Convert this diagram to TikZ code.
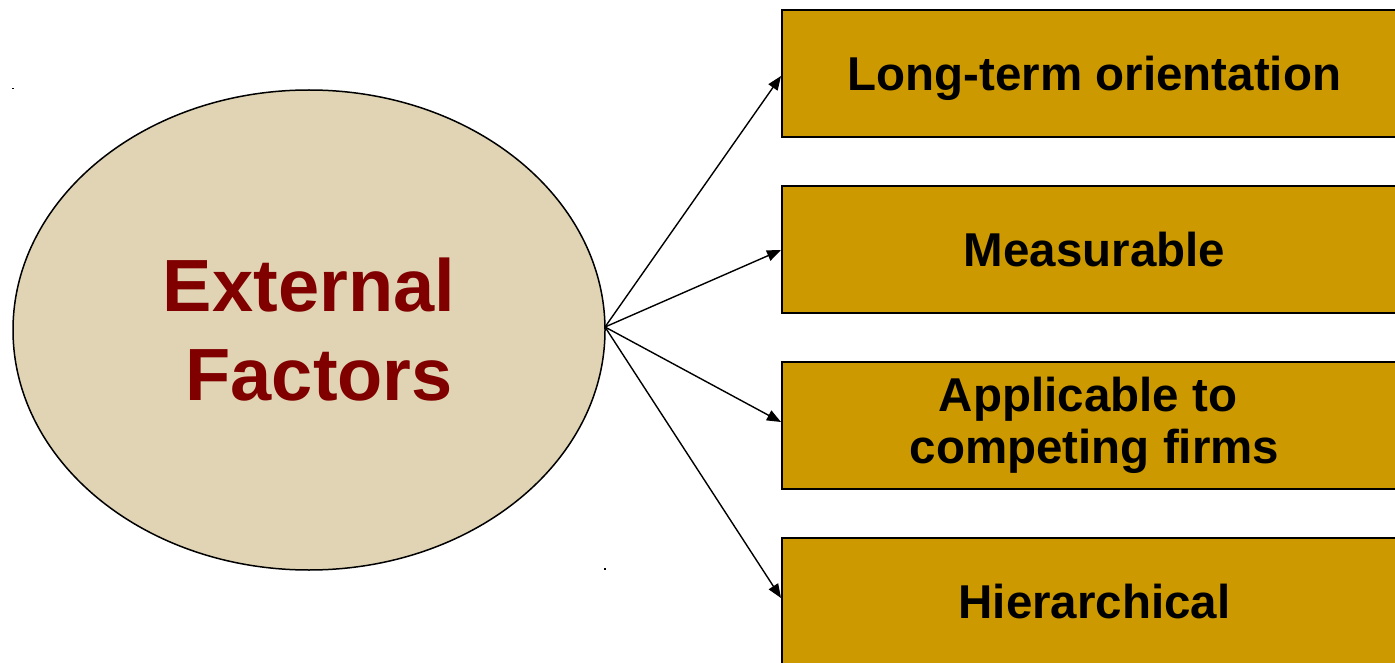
\documentclass[tikz,border=0pt]{standalone}
\usepackage{fontspec}
\setmainfont{Liberation Sans}
\usetikzlibrary{arrows.meta,shapes.geometric}
\definecolor{ellfill}{HTML}{E0D4B4}
\definecolor{boxfill}{HTML}{CC9900}
\definecolor{darkred}{HTML}{800000}
\begin{document}
\begin{tikzpicture}[x=1pt,y=-1pt,
  factorbox/.style={draw=black,line width=2pt,fill=boxfill,minimum width=625pt,minimum height=127pt,inner sep=0pt,anchor=north west,align=center,font=\fontsize{47.5}{52}\selectfont\bfseries},
  link/.style={draw=black,line width=1.4pt,-{Triangle[length=14pt,width=11pt]}}]
\useasboundingbox (0,0) rectangle (1395,663);
\clip (0,0) rectangle (1395,663);
\node[ellipse,draw=black,line width=1.5pt,fill=ellfill,minimum width=592pt,minimum height=480pt,inner sep=0pt,
  font=\fontsize{74}{89}\selectfont\bfseries,text=darkred,align=center] (ef) at (309,330) {External\\\hspace*{20.5pt}Factors};
\node[factorbox] (b1) at (781,9) {\raisebox{-5pt}[\height][\depth]{Long-term orientation}};
\node[factorbox] (b2) at (781,185) {Measurable};
\node[factorbox] (b3) at (781,361) {Applicable to\hspace*{13pt}\\competing firms};
\node[factorbox] (b4) at (781,537) {Hierarchical};
\coordinate (src) at (605,327);
\draw[link] (src) -- (b1.west |- 0,76);
\draw[link] (src) -- (b2.west |- 0,250);
\draw[link] (src) -- (b3.west |- 0,422);
\draw[link] (src) -- (b4.west |- 0,598);
\fill[black] (12,88) rectangle (14,89.5);
\fill[black] (604,568) rectangle (606,569.5);
\end{tikzpicture}
\end{document}
